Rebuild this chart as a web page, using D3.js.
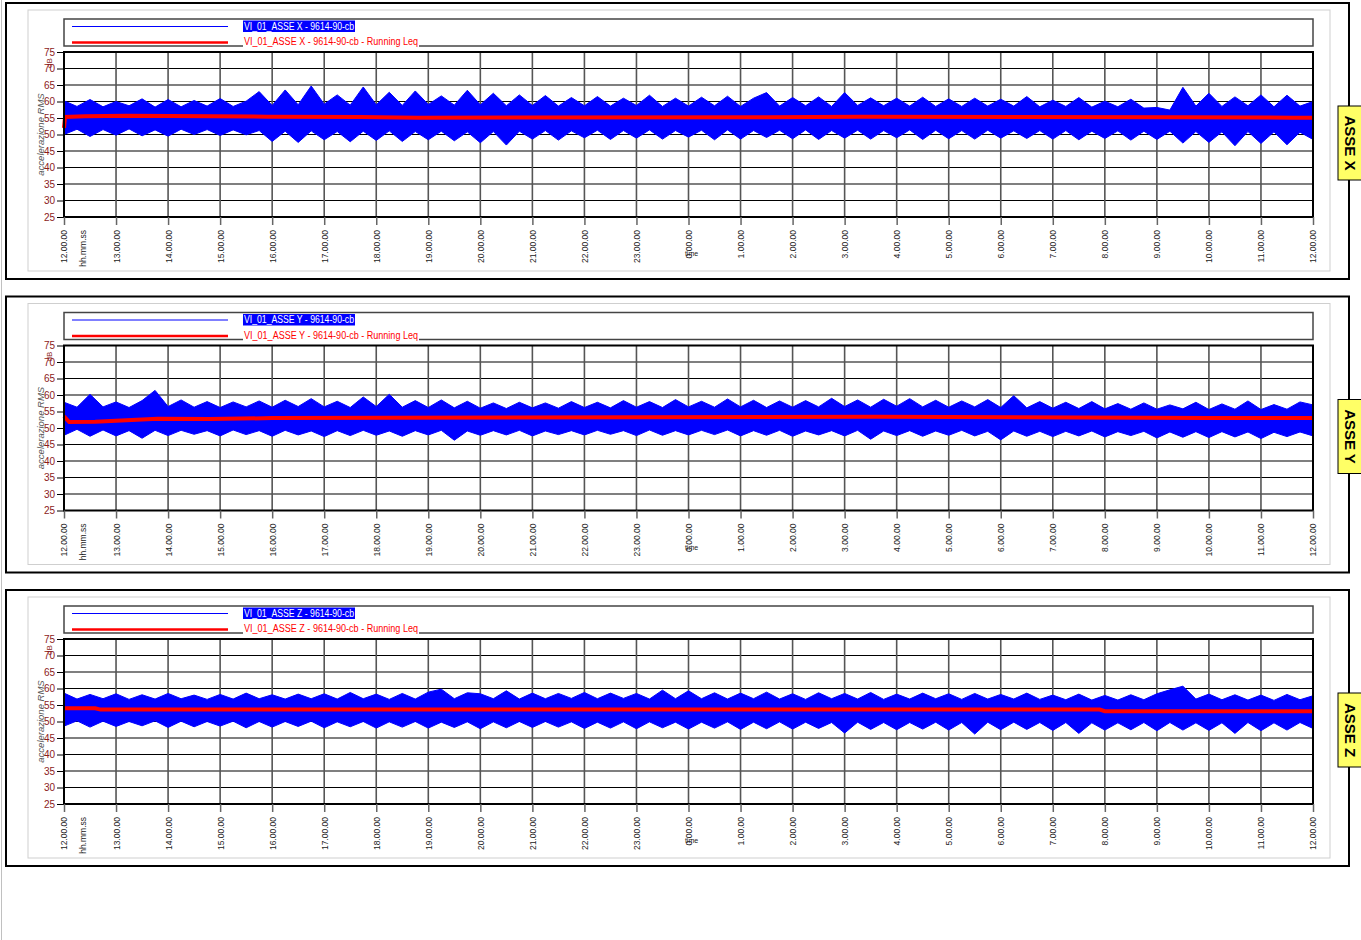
<!DOCTYPE html>
<html>
<head>
<meta charset="utf-8">
<script src="https://cdn.jsdelivr.net/npm/d3@7"></script>
<style>
body { margin: 0; background: #fff; }
svg { display: block; font-family: "Liberation Sans", Arial, sans-serif; }
</style>
</head>
<body>
<script>

//Width and height
var w = 1361;
var h = 940;

//x axis: 24 hours starting at 12.00.00
var hourLabels = ["12.00.00", "13.00.00", "14.00.00", "15.00.00", "16.00.00", "17.00.00",
  "18.00.00", "19.00.00", "20.00.00", "21.00.00", "22.00.00", "23.00.00", "0.00.00",
  "1.00.00", "2.00.00", "3.00.00", "4.00.00", "5.00.00", "6.00.00", "7.00.00",
  "8.00.00", "9.00.00", "10.00.00", "11.00.00", "12.00.00"];
var hourTicks = [0, 1, 2, 3, 4, 5, 6, 7, 8, 9, 10, 11, 12, 13, 14, 15, 16, 17, 18, 19, 20, 21, 22, 23, 24];
var yTicks = [25, 30, 35, 40, 45, 50, 55, 60, 65, 70, 75];

var axisNames = ["ASSE X", "ASSE Y", "ASSE Z"];
var seriesNames = ["VI_01_ASSE X - 9614-90-cb", "VI_01_ASSE Y - 9614-90-cb", "VI_01_ASSE Z - 9614-90-cb"];
var leqNames = ["VI_01_ASSE X - 9614-90-cb - Running Leq", "VI_01_ASSE Y - 9614-90-cb - Running Leq", "VI_01_ASSE Z - 9614-90-cb - Running Leq"];

//RMS envelope, one value every 15 minutes (upper and lower, dB)
var hiX = [
  60.2, 58.5, 60.6, 58.4, 60.0, 58.7, 60.8, 58.3, 60.6, 58.4, 60.3, 58.6,
  60.9, 58.5, 60.1, 63.0, 58.8, 63.5, 59.0, 64.7, 59.2, 62.0, 58.9, 64.4,
  59.0, 62.8, 58.8, 63.2, 59.1, 61.7, 58.9, 63.4, 59.0, 62.5, 58.7, 62.0,
  58.8, 61.8, 58.6, 61.2, 58.7, 61.5, 58.6, 61.0, 58.8, 61.9, 58.5, 61.0,
  58.6, 61.3, 58.7, 61.6, 58.5, 61.0, 62.7, 58.6, 61.2, 58.7, 61.4, 58.5,
  62.7, 58.8, 61.1, 58.7, 61.0, 58.6, 61.3, 58.5, 60.8, 58.5, 61.0, 58.6,
  60.7, 58.6, 61.5, 58.4, 60.4, 58.5, 61.2, 58.3, 60.1, 58.4, 60.7, 58.0,
  58.2, 57.4, 64.3, 58.6, 62.5, 58.5, 61.4, 58.7, 62.0, 58.4, 61.9, 58.6,
  60.0];
var loX = [
  50.0, 51.6, 49.4, 51.5, 49.8, 51.7, 49.6, 51.4, 49.5, 51.6, 50.0, 51.5,
  49.7, 51.4, 49.9, 51.2, 47.9, 51.0, 47.6, 51.1, 48.4, 50.9, 47.8, 51.0,
  48.2, 51.1, 47.9, 50.9, 48.4, 51.0, 48.1, 50.8, 47.5, 50.9, 46.8, 51.0,
  48.6, 51.2, 48.3, 51.1, 49.0, 51.3, 48.5, 51.2, 48.9, 51.4, 48.6, 51.2,
  49.2, 51.3, 48.4, 51.4, 48.6, 51.2, 49.1, 51.3, 48.7, 51.4, 48.5, 51.2,
  48.9, 51.3, 48.6, 51.2, 49.0, 51.4, 48.5, 51.3, 48.7, 51.2, 48.6, 51.3,
  48.9, 51.1, 48.8, 51.2, 48.6, 51.2, 48.4, 51.0, 48.8, 51.1, 48.3, 51.0,
  48.5, 51.0, 47.4, 50.9, 47.6, 50.8, 46.6, 50.9, 47.3, 50.8, 46.9, 50.7,
  48.5];

var hiY = [
  57.8, 56.3, 60.2, 56.4, 57.9, 56.2, 58.3, 61.4, 56.5, 58.5, 56.3, 58.0,
  56.2, 57.9, 56.4, 58.2, 56.3, 58.4, 56.5, 58.9, 56.4, 58.1, 56.2, 59.4,
  56.5, 60.2, 56.3, 58.3, 56.2, 58.5, 56.1, 58.1, 56.0, 57.6, 55.9, 57.8,
  56.1, 57.6, 56.0, 58.0, 56.2, 57.8, 56.1, 58.3, 56.3, 58.0, 56.2, 58.6,
  56.4, 58.1, 56.3, 58.8, 56.4, 58.4, 56.2, 58.2, 56.3, 58.3, 56.4, 59.0,
  56.5, 58.5, 56.3, 58.7, 56.6, 58.9, 56.4, 58.4, 56.3, 58.2, 56.4, 58.6,
  56.2, 59.8, 56.1, 58.0, 56.0, 57.8, 55.9, 58.0, 55.8, 57.4, 55.7, 57.6,
  55.7, 57.0, 55.8, 57.8, 55.6, 57.3, 55.7, 58.2, 55.6, 57.1, 55.7, 57.9,
  57.0];
var loY = [
  47.8, 49.6, 47.5, 49.4, 47.6, 49.2, 46.9, 49.3, 47.7, 49.3, 48.1, 49.2,
  47.6, 49.4, 48.0, 49.2, 47.5, 49.3, 47.9, 49.1, 47.4, 49.2, 47.7, 49.3,
  47.8, 49.1, 47.5, 49.2, 47.9, 49.3, 46.3, 49.1, 47.8, 49.2, 47.9, 49.3,
  47.6, 49.1, 48.0, 49.2, 47.9, 49.3, 48.1, 49.2, 47.7, 49.4, 47.8, 49.2,
  47.9, 49.3, 48.0, 49.4, 47.6, 49.2, 47.8, 49.3, 47.5, 49.1, 47.9, 49.2,
  47.6, 49.3, 46.6, 49.1, 47.7, 49.2, 47.5, 49.1, 47.8, 49.3, 47.6, 49.0,
  46.4, 49.1, 47.5, 49.0, 47.4, 49.0, 47.6, 49.1, 47.3, 48.9, 47.7, 49.0,
  47.0, 48.8, 47.2, 48.9, 47.1, 48.9, 47.3, 48.8, 46.8, 48.7, 47.4, 48.8,
  47.6];

var hiZ = [
  58.6, 56.8, 58.2, 56.9, 58.4, 56.7, 58.1, 56.8, 58.5, 56.9, 58.0, 56.7,
  58.2, 56.8, 58.6, 56.9, 58.1, 56.8, 58.3, 56.9, 58.4, 56.8, 58.8, 56.9,
  58.3, 56.7, 58.5, 56.8, 58.9, 59.8, 56.9, 58.7, 58.4, 56.9, 59.3, 56.8,
  58.6, 56.9, 58.5, 57.0, 58.8, 56.9, 58.6, 57.0, 58.5, 56.8, 59.5, 56.9,
  59.3, 56.9, 58.7, 56.8, 58.6, 56.9, 58.9, 56.8, 58.4, 56.7, 58.7, 56.9,
  58.5, 56.8, 58.8, 56.7, 58.3, 56.8, 58.6, 56.9, 58.4, 56.7, 58.5, 56.8,
  58.2, 56.8, 58.6, 56.7, 58.0, 56.6, 58.3, 56.5, 57.9, 56.5, 58.1, 56.6,
  58.4, 59.6, 60.7, 56.8, 58.3, 56.6, 58.1, 56.5, 58.0, 56.4, 58.2, 56.6,
  57.8];
var loZ = [
  48.6, 50.2, 48.3, 50.1, 48.5, 50.0, 48.7, 50.2, 48.2, 50.1, 48.4, 50.0,
  48.6, 50.1, 48.1, 50.0, 48.3, 50.0, 48.5, 50.1, 48.1, 49.9, 48.4, 50.0,
  48.0, 49.9, 48.3, 50.0, 48.0, 49.8, 48.2, 49.9, 47.8, 49.9, 48.1, 50.0,
  48.2, 50.0, 48.3, 49.9, 47.9, 49.8, 48.0, 49.9, 47.8, 49.9, 48.1, 49.8,
  47.7, 49.8, 48.0, 49.9, 47.6, 49.8, 47.8, 49.9, 47.7, 49.8, 47.9, 49.7,
  46.5, 49.8, 47.6, 49.7, 47.5, 49.7, 47.7, 49.8, 47.4, 49.7, 46.2, 49.8,
  47.5, 49.8, 47.6, 49.7, 47.3, 49.7, 46.4, 49.6, 47.4, 49.6, 47.5, 49.7,
  47.2, 49.7, 47.4, 49.6, 47.3, 49.6, 46.4, 49.7, 47.2, 49.6, 47.4, 49.7,
  47.9];

//Running Leq (hours from start, dB)
var leqXTimes = [0, 0.02, 0.4, 1.2, 3.9, 5.7, 6.8, 13.5, 15.3, 21.5, 23.6, 24];
var leqX = [52.0, 55.3, 55.5, 55.7, 55.4, 55.3, 55.1, 55.2, 55.4, 55.2, 55.1, 55.1];
var leqYTimes = [0, 0.1, 0.6, 1.1, 1.8, 2.8, 4, 15.6, 22, 24];
var leqY = [53.5, 51.8, 51.9, 52.3, 52.8, 52.7, 53.0, 53.4, 53.0, 53.0];
var leqZTimes = [0, 0.6, 0.7, 19.9, 20, 24];
var leqZ = [54.0, 54.0, 53.6, 53.6, 53.1, 53.1];

var panelTops = [3, 296.5, 590];

var panels = [
  { name: axisNames[0], serie: seriesNames[0], leqName: leqNames[0], hi: hiX, lo: loX, leqT: leqXTimes, leq: leqX },
  { name: axisNames[1], serie: seriesNames[1], leqName: leqNames[1], hi: hiY, lo: loY, leqT: leqYTimes, leq: leqY },
  { name: axisNames[2], serie: seriesNames[2], leqName: leqNames[2], hi: hiZ, lo: loZ, leqT: leqZTimes, leq: leqZ }
];

//Create SVG element
var svg = d3.select("body")
  .append("svg")
  .attr("width", w)
  .attr("height", h);

//page edge
svg.append("line").attr("x1", 1.5).attr("x2", 1.5).attr("y1", 0).attr("y2", h)
  .style("stroke", "#c0c0c0");

var x = d3.scaleLinear().domain([0, 24]).range([64, 1313]);
var y = d3.scaleLinear().domain([25, 75]).range([214, 49]);

panels.forEach(function (p, k) {
  var g = svg.append("g").attr("transform", "translate(0," + panelTops[k] + ")");

  //frames
  g.append("rect").attr("x", 6).attr("y", 0).attr("width", 1343).attr("height", 276)
    .style("fill", "none").style("stroke", "#000").style("stroke-width", 2);
  g.append("rect").attr("x", 28).attr("y", 7).attr("width", 1302).attr("height", 261)
    .style("fill", "none").style("stroke", "#cfcfcf");

  //legend
  g.append("rect").attr("x", 64).attr("y", 16).attr("width", 1249).attr("height", 27)
    .style("fill", "none").style("stroke", "#444").style("stroke-width", 1.5);
  g.append("line").attr("x1", 72).attr("x2", 228).attr("y1", 23.5).attr("y2", 23.5)
    .style("stroke", "#0000ff");
  g.append("rect").attr("x", 243).attr("y", 17.5).attr("width", 112).attr("height", 11.5)
    .style("fill", "#0000ff");
  g.append("text").attr("x", 244).attr("y", 26.8).text(p.serie)
    .attr("textLength", 110).attr("lengthAdjust", "spacingAndGlyphs")
    .style("fill", "#fff").style("font-size", "10px");
  g.append("line").attr("x1", 72).attr("x2", 228).attr("y1", 39.5).attr("y2", 39.5)
    .style("stroke", "#ff0000").style("stroke-width", 2.5);
  g.append("rect").attr("x", 243).attr("y", 33).attr("width", 176).attr("height", 12)
    .style("fill", "#fff");
  g.append("text").attr("x", 244).attr("y", 42).text(p.leqName)
    .attr("textLength", 174).attr("lengthAdjust", "spacingAndGlyphs")
    .style("fill", "#ff0000").style("font-size", "10px");

  //grid
  g.append("g").selectAll("line.hg")
    .data(yTicks.slice(1, -1))
    .enter().append("line")
    .attr("x1", 64).attr("x2", 1313)
    .attr("y1", function (d) { return y(d); }).attr("y2", function (d) { return y(d); })
    .style("stroke", "#000").style("stroke-width", 1.2);
  g.append("g").selectAll("line.vg")
    .data(hourTicks.slice(1, -1))
    .enter().append("line")
    .attr("y1", y(75)).attr("y2", y(25))
    .attr("x1", function (d) { return x(d); }).attr("x2", function (d) { return x(d); })
    .style("stroke", "#555").style("stroke-width", 1.6);

  //RMS band
  var area = d3.area()
    .x(function (d, i) { return x(i / 4); })
    .y0(function (d, i) { return y(p.lo[i]); })
    .y1(function (d) { return y(d); });
  g.append("path").datum(p.hi).attr("d", area)
    .style("fill", "#0000ff").style("stroke", "#0000ff").style("stroke-width", 1);

  //Running Leq
  var line = d3.line()
    .x(function (d, i) { return x(p.leqT[i]); })
    .y(function (d) { return y(d); });
  g.append("path").datum(p.leq).attr("d", line)
    .style("fill", "none").style("stroke", "#ff0000").style("stroke-width", 4);

  //plot border
  g.append("rect").attr("x", 64).attr("y", y(75)).attr("width", 1249).attr("height", y(25) - y(75))
    .style("fill", "none").style("stroke", "#000").style("stroke-width", 2);

  //y axis
  var ya = g.append("g").attr("transform", "translate(64,0)")
    .call(d3.axisLeft(y).tickValues(yTicks).tickSize(7).tickPadding(2));
  ya.select(".domain").remove();
  ya.selectAll("line").style("stroke", "#000");
  ya.selectAll("text").style("fill", "#8b1a1a").style("font-size", "10px");
  g.append("text").attr("transform", "translate(52,60) rotate(-90)")
    .attr("text-anchor", "middle").text("dB")
    .style("fill", "#8b1a1a").style("font-size", "8px");
  g.append("text").attr("transform", "translate(44," + ((y(25) + y(75)) / 2) + ") rotate(-90)")
    .attr("text-anchor", "middle").text("accelerazione RMS")
    .style("fill", "#555").style("font-size", "9.5px").style("font-style", "italic");

  //x axis
  var xa = g.append("g").attr("transform", "translate(0," + y(25) + ")")
    .call(d3.axisBottom(x).tickValues(hourTicks).tickSize(8)
      .tickFormat(function (d, i) { return hourLabels[i]; }));
  xa.select(".domain").remove();
  xa.selectAll("line").style("stroke", "#666").style("stroke-width", 1.5);
  xa.selectAll("text")
    .attr("transform", "rotate(-90)")
    .attr("x", -13).attr("y", 0).attr("dy", "0.35em")
    .attr("text-anchor", "end")
    .style("fill", "#222").style("font-size", "8.5px");
  g.append("text").attr("transform", "translate(" + (x(0) + 19) + "," + (y(25) + 13) + ") rotate(-90)")
    .attr("dy", "0.35em").attr("text-anchor", "end").text("hh.mm.ss")
    .style("fill", "#222").style("font-size", "8.5px");
  g.append("text").attr("x", x(12) + 3).attr("y", y(25) + 39)
    .attr("text-anchor", "middle").text("time")
    .style("fill", "#222").style("font-size", "7px");

  //side label
  g.append("rect").attr("x", 1338).attr("y", 103).attr("width", 25).attr("height", 74)
    .style("fill", "#ffff66").style("stroke", "#000");
  g.append("text").attr("transform", "translate(1345,140) rotate(90)")
    .attr("text-anchor", "middle").text(p.name)
    .style("fill", "#000").style("font-size", "15px").style("font-weight", "bold");
});

</script>
</body>
</html>
